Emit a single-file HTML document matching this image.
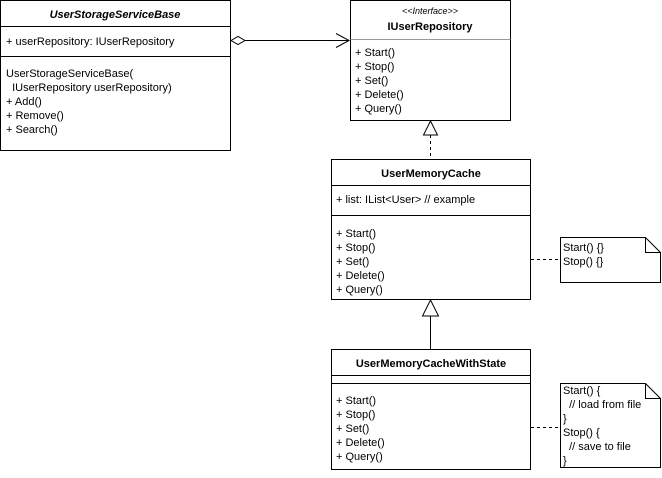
<!DOCTYPE html>
<html><head><meta charset="utf-8"><style>
html,body{margin:0;padding:0;background:#fff;}
svg text{font-family:"Liberation Sans",Arial,sans-serif;font-size:11px;fill:#000;}
</style></head><body>
<svg width="662" height="473" viewBox="0 0 662 473" xmlns="http://www.w3.org/2000/svg">
<g fill="#fff" stroke="#000" stroke-width="1">
<rect x="0.5" y="0.5" width="230" height="150"/>
<line x1="0.5" y1="26.5" x2="230.5" y2="26.5"/>
<line x1="0.5" y1="56.5" x2="230.5" y2="56.5"/>
<rect x="350.5" y="0.5" width="160" height="120"/>
<line x1="350.5" y1="39.5" x2="510.5" y2="39.5" stroke="#999"/>
<rect x="331.5" y="159.5" width="199" height="140"/>
<line x1="331.5" y1="185.5" x2="530.5" y2="185.5"/>
<line x1="331.5" y1="215.5" x2="530.5" y2="215.5"/>
<rect x="331.5" y="349.5" width="199" height="120"/>
<line x1="331.5" y1="375.5" x2="530.5" y2="375.5"/>
<line x1="331.5" y1="383.5" x2="530.5" y2="383.5"/>
<path d="M560.5 237.5 H645.5 L660.5 252.5 V282.5 H560.5 Z"/>
<path d="M645.5 237.5 V252.5 H660.5" fill="none"/>
<path d="M560.5 383.5 H645.5 L660.5 398.5 V467.5 H560.5 Z"/>
<path d="M645.5 383.5 V398.5 H660.5" fill="none"/>
</g>
<g stroke="#000" fill="none">
<path d="M231 40.5 L238 36.5 L245 40.5 L238 44.5 Z" fill="#fff"/>
<line x1="245" y1="40.5" x2="349" y2="40.5"/>
<path d="M336 33.5 L349 40.5 L336 47.5"/>
<path d="M430.5 121 L437.5 135 L423.5 135 Z" fill="#fff"/>
<line x1="430.5" y1="135" x2="430.5" y2="159" stroke-dasharray="3,3"/>
<path d="M430.5 300 L438.5 316 L422.5 316 Z" fill="#fff"/>
<line x1="430.5" y1="316" x2="430.5" y2="349"/>
<line x1="531" y1="259.5" x2="560" y2="259.5" stroke-dasharray="3,3"/>
<line x1="531" y1="427.5" x2="560" y2="427.5" stroke-dasharray="3,3"/>
</g>
<text x="115" y="18" text-anchor="middle" style="font-weight:bold;font-style:italic">UserStorageServiceBase</text>
<text x="6" y="45">+ userRepository: IUserRepository</text>
<text x="6" y="77">UserStorageServiceBase(</text>
<text x="6" y="91" xml:space="preserve">  IUserRepository userRepository)</text>
<text x="6" y="105">+ Add()</text>
<text x="6" y="119">+ Remove()</text>
<text x="6" y="133">+ Search()</text>
<text x="430" y="14" text-anchor="middle" font-style="italic" style="font-size:9px">&lt;&lt;Interface&gt;&gt;</text>
<text x="430" y="30" text-anchor="middle" font-weight="bold">IUserRepository</text>
<text x="355" y="56">+ Start()</text>
<text x="355" y="70">+ Stop()</text>
<text x="355" y="84">+ Set()</text>
<text x="355" y="98">+ Delete()</text>
<text x="355" y="112">+ Query()</text>
<text x="431" y="177" text-anchor="middle" font-weight="bold">UserMemoryCache</text>
<text x="336" y="203">+ list: IList&lt;User&gt; // example</text>
<text x="336" y="237">+ Start()</text>
<text x="336" y="251">+ Stop()</text>
<text x="336" y="265">+ Set()</text>
<text x="336" y="279">+ Delete()</text>
<text x="336" y="293">+ Query()</text>
<text x="431" y="367" text-anchor="middle" font-weight="bold">UserMemoryCacheWithState</text>
<text x="336" y="404">+ Start()</text>
<text x="336" y="418">+ Stop()</text>
<text x="336" y="432">+ Set()</text>
<text x="336" y="446">+ Delete()</text>
<text x="336" y="460">+ Query()</text>
<text x="563" y="251">Start() {}</text>
<text x="563" y="265">Stop() {}</text>
<text x="563" y="394">Start() {</text>
<text x="563" y="408" xml:space="preserve">  // load from file</text>
<text x="563" y="422">}</text>
<text x="563" y="436">Stop() {</text>
<text x="563" y="450" xml:space="preserve">  // save to file</text>
<text x="563" y="464">}</text>
</svg>
</body></html>
